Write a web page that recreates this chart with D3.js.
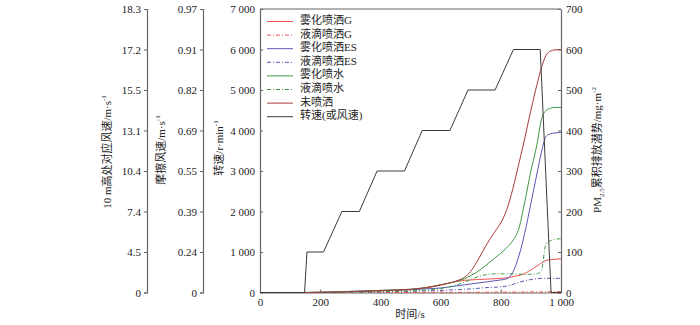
<!DOCTYPE html>
<html><head><meta charset="utf-8">
<script src="https://cdn.jsdelivr.net/npm/d3@7"></script>
<style>
body{margin:0;background:#fff;}
text{font-family:"Liberation Serif","Noto Sans CJK SC",serif;fill:#222;}
</style></head>
<body><svg id="c" width="700" height="325"></svg>
<script>
// ---- data ----
const times = [0,150,300,400,500,550,600,650,680,700,720,750,780,800,820,840,860,880,900,920,935,950,965,980,1000];
const wuhuaG   = [0,0,2,4,7,11,18,27,30,31,32,33,34,35,36,39,42,47,56,65,73,79,81,82,83];
const yediG    = [0,0,0,0,0,0,0.5,0.5,0.5,0.5,0.5,0.5,1,1,1,1,1,1,1.5,1.5,1.5,2,2,2,2];
const wuhuaES  = [0,0,3,5,7,9,11,16,19,21,23,26,29,31,34,50,90,148,220,293,346,385,392,394,395];
const yediES   = [0,0,1,2,3,4,5,7,8,9,10,12,13,14,16,20,25,29,32,34,35,35,35,35,35];
const wuhuaShui= [0,0,2,5,8,12,19,27,34,42,50,67,85,97,111,128,158,225,300,365,427,449,455,457,457];
const yediShui = [0,0,1,2,4,6,10,18,26,32,38,44,46,46,46,46,45,45,45,46,55,120,128,131,133];
const weiPen   = [0,0,2,5,8,12,19,28,38,52,75,115,150,172,205,256,318,382,450,513,555,585,596,599,600];
const speedTime  = [0,148,156,211,272,330,389,480,539,631,691,781,842,931,967,1000];
const speedValue = [0,0,1000,1000,2000,2000,3000,3000,4000,4000,5000,5000,6000,6000,0,0];
const rpmTicks = [0,1000,2000,3000,4000,5000,6000,7000];
const wind10Labels = ["0","4.5","7.4","10.4","13.1","15.5","17.2","18.3"];
const frictionLabels = ["0","0.24","0.39","0.55","0.69","0.82","0.91","0.97"];
const pmTicks = [0,100,200,300,400,500,600,700];
const timeTicks = [0,200,400,600,800,1000];
const seriesNames = ["雾化喷洒G","液滴喷洒G","雾化喷洒ES","液滴喷洒ES","雾化喷水","液滴喷水","未喷洒"];
const seriesColors = ["#f25050","#f25050","#5a56b4","#5a56b4","#3f9640","#3f9640","#a53a3a"];
const seriesDashed = [false,true,false,true,false,true,false];
const seriesValues = [wuhuaG,yediG,wuhuaES,yediES,wuhuaShui,yediShui,weiPen];
const speedName = "转速(或风速)";

// ---- layout ----
const svg = d3.select("#c");
const L=260, R=561, T=9, B=292.5;
const x = d3.scaleLinear().domain([0,1000]).range([L,R]);
const yRpm = d3.scaleLinear().domain([0,7000]).range([B,T]);
const yPm = d3.scaleLinear().domain([0,700]).range([B,T]);
const sp = d3.format(",");
const fmt = v => sp(v).replace(/,/g," ");

function styleAxis(g){
  g.selectAll(".domain").attr("stroke","#666").attr("stroke-width",1.2);
  g.selectAll(".tick line").attr("stroke","#666");
  g.selectAll("text").style("font-size","11px").attr("fill","#222");
}

// extra left axes
const a1 = svg.append("g").attr("transform","translate(147,0)")
  .call(d3.axisLeft(yRpm).tickValues(rpmTicks).tickSize(3).tickPadding(3).tickFormat((d,i)=>wind10Labels[i]));
styleAxis(a1);
const a2 = svg.append("g").attr("transform","translate(203,0)")
  .call(d3.axisLeft(yRpm).tickValues(rpmTicks).tickSize(3).tickPadding(3).tickFormat((d,i)=>frictionLabels[i]));
styleAxis(a2);

// main axes
const aL = svg.append("g").attr("transform",`translate(${L},0)`)
  .call(d3.axisLeft(yRpm).tickValues(rpmTicks).tickSizeInner(-3).tickSizeOuter(0).tickPadding(5).tickFormat(fmt));
styleAxis(aL);
const aR = svg.append("g").attr("transform",`translate(${R},0)`)
  .call(d3.axisRight(yPm).tickValues(pmTicks).tickSizeInner(-3).tickSizeOuter(0).tickPadding(5).tickFormat(fmt));
styleAxis(aR);
const aB = svg.append("g").attr("transform",`translate(0,${B})`)
  .call(d3.axisBottom(x).tickValues(timeTicks).tickSizeInner(-3).tickSizeOuter(0).tickPadding(6).tickFormat(fmt));
styleAxis(aB);
svg.append("line").attr("x1",L).attr("x2",R).attr("y1",T).attr("y2",T).attr("stroke","#666").attr("stroke-width",1.2);

// titles
function vtitle(cx, cy, parts){
  const t = svg.append("text").attr("transform",`translate(${cx},${cy}) rotate(-90)`)
    .attr("text-anchor","middle").attr("dominant-baseline","middle").style("font-size","11px");
  parts.forEach(p=>{
    const s = t.append("tspan").text(p[0]);
    if(p[1]==="sup") s.attr("baseline-shift","super").style("font-size","7px");
    if(p[1]==="sub") s.attr("baseline-shift","sub").style("font-size","7px");
  });
}
vtitle(108,152,[["10 m高处对应风速/m·s"],["-1","sup"]]);
vtitle(162,150,[["摩擦风速/m·s"],["-1","sup"]]);
vtitle(220,148,[["转速/r·min"],["-1","sup"]]);
vtitle(598,150,[["PM"],["2.5","sub"],["累积排放潜势/mg·m"],["-2","sup"]]);
svg.append("text").attr("x",410).attr("y",318).attr("text-anchor","middle").style("font-size","11px").text("时间/s");

// lines
const pmLine = vals => d3.line().x((d,i)=>x(times[i])).y(d=>yPm(d)).curve(d3.curveMonotoneX)(vals);
const plot = svg.append("g");
seriesValues.forEach((vals,k)=>{
  plot.append("path").attr("d",pmLine(vals)).attr("fill","none")
    .attr("stroke",seriesColors[k]).attr("stroke-width",1)
    .attr("stroke-dasharray",seriesDashed[k]?"4,2,1,2":null);
});
const spLine = d3.line().x((d,i)=>x(speedTime[i])).y(d=>yRpm(d));
plot.append("path").attr("d",spLine(speedValue)).attr("fill","none").attr("stroke","#3a3a3a").attr("stroke-width",1);

// legend
const lg = svg.append("g");
const names = seriesNames.concat([speedName]);
const cols = seriesColors.concat(["#3a3a3a"]);
const dsh = seriesDashed.concat([false]);
names.forEach((n,i)=>{
  const yy = 21.5 + i*13.6;
  lg.append("line").attr("x1",267).attr("x2",293).attr("y1",yy).attr("y2",yy)
    .attr("stroke",cols[i]).attr("stroke-width",1).attr("stroke-dasharray",dsh[i]?"4,2,1,2":null);
  lg.append("text").attr("x",300).attr("y",yy).attr("dominant-baseline","middle").style("font-size","11px").text(n);
});
</script></body></html>
